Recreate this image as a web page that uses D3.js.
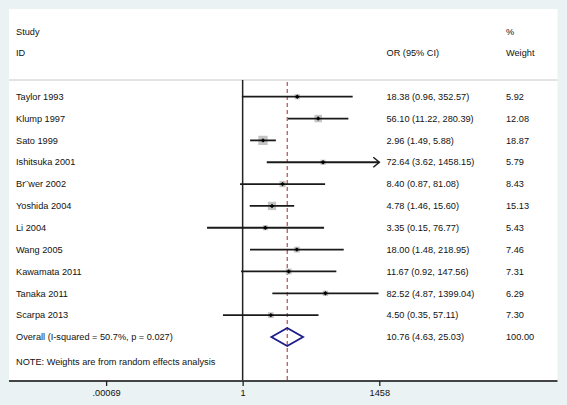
<!DOCTYPE html>
<html><head><meta charset="utf-8">
<script src="https://cdn.jsdelivr.net/npm/d3@7"></script>
<style>html,body{margin:0;padding:0;background:#eaf2f3;}svg{display:block;}</style>
</head><body>
<script>
const studies = ["Taylor 1993","Klump 1997","Sato 1999","Ishitsuka 2001","Br\u00a8wer 2002","Yoshida 2004","Li 2004","Wang 2005","Kawamata 2011","Tanaka 2011","Scarpa 2013"];
const orVals = [18.38,56.10,2.96,72.64,8.40,4.78,3.35,18.00,11.67,82.52,4.50];
const loVals = [0.96,11.22,1.49,3.62,0.87,1.46,0.15,1.48,0.92,4.87,0.35];
const hiVals = [352.57,280.39,5.88,1458.15,81.08,15.60,76.77,218.95,147.56,1399.04,57.11];
const weights = [5.92,12.08,18.87,5.79,8.43,15.13,5.43,7.46,7.31,6.29,7.30];
const overall = {label:"Overall  (I-squared = 50.7%, p = 0.027)", or:10.76, lo:4.63, hi:25.03, w:100.00};
const tickVals = [0.00069, 1, 1458];
const tickLabels = [".00069", "1", "1458"];
const noteText = "NOTE: Weights are from random effects analysis";

const W = 567, H = 405;
const svg = d3.select("body").append("svg").attr("width", W).attr("height", H);
svg.append("rect").attr("width", W).attr("height", H).attr("fill", "#eaf2f3");
svg.append("rect").attr("x", 9).attr("y", 9).attr("width", 548.5).attr("height", 372).attr("fill", "#fff");

const x = d3.scaleLog().domain([tickVals[0], tickVals[2]]).range([106.1, 379.3]);
const rows = studies.concat(["__overall"]);
const y = d3.scalePoint().domain(rows).range([96.7, 337]);

const font = "'Liberation Sans', Arial, sans-serif";
const txt = (t, xx, yy, anchor) => svg.append("text").attr("x", xx).attr("y", yy)
  .attr("dy", "0.35em").attr("font-family", font).attr("font-size", 9.2)
  .attr("fill", "#111").attr("text-anchor", anchor || "start").text(t);

// header
txt("Study", 16, 31.7); txt("ID", 16, 52.7);
txt("OR (95% CI)", 386.5, 52.7);
txt("%", 506, 31.7); txt("Weight", 506, 52.7);
svg.append("line").attr("x1", 9).attr("x2", 557.5).attr("y1", 80).attr("y2", 80)
  .attr("stroke", "#c8c8c8").attr("stroke-width", 1);

// null line
svg.append("line").attr("x1", x(1)).attr("x2", x(1)).attr("y1", 80).attr("y2", 381)
  .attr("stroke", "#222").attr("stroke-width", 1.5);
// overall dashed line
svg.append("line").attr("x1", x(overall.or)).attr("x2", x(overall.or)).attr("y1", 82).attr("y2", 381)
  .attr("stroke", "#a32a2a").attr("stroke-width", 1).attr("stroke-dasharray", "4,3");

const xmin = tickVals[0], xmax = tickVals[2];
studies.forEach((s, i) => {
  const yy = y(s);
  const lo = Math.max(loVals[i], xmin), hi = Math.min(hiVals[i], xmax);
  const side = 2.14 * Math.sqrt(weights[i]);
  svg.append("rect").attr("x", x(orVals[i]) - side/2).attr("y", yy - side/2)
    .attr("width", side).attr("height", side).attr("fill", "#c4c4c4");
  svg.append("line").attr("x1", x(lo)).attr("x2", x(hi)).attr("y1", yy).attr("y2", yy)
    .attr("stroke", "#1a1a1a").attr("stroke-width", 1.8);
  if (hiVals[i] > xmax) {
    const ax = x(xmax);
    svg.append("path").attr("d", `M${ax-6},${yy-5} L${ax},${yy} L${ax-6},${yy+5}`)
      .attr("fill", "none").attr("stroke", "#1a1a1a").attr("stroke-width", 1.5);
  }
  const px = x(orVals[i]);
  svg.append("path").attr("d", `M${px},${yy-2.2} L${px+2.2},${yy} L${px},${yy+2.2} L${px-2.2},${yy} Z`)
    .attr("fill", "#000");
  txt(s, 16, yy);
  txt(`${orVals[i].toFixed(2)} (${loVals[i].toFixed(2)}, ${hiVals[i].toFixed(2)})`, 386.5, yy);
  txt(weights[i].toFixed(2), 506, yy);
});

// overall diamond
const oy = y("__overall");
svg.append("path").attr("d",
  `M${x(overall.lo)},${oy} L${x(overall.or)},${oy-9} L${x(overall.hi)},${oy} L${x(overall.or)},${oy+9} Z`)
  .attr("fill", "none").attr("stroke", "#1c1c8a").attr("stroke-width", 1.8);
txt(overall.label, 16, oy);
txt(`${overall.or.toFixed(2)} (${overall.lo.toFixed(2)}, ${overall.hi.toFixed(2)})`, 386.5, oy);
txt(overall.w.toFixed(2), 506, oy);

txt(noteText, 16, 361.5);

// x axis
svg.append("line").attr("x1", 9).attr("x2", 557.5).attr("y1", 381).attr("y2", 381)
  .attr("stroke", "#444").attr("stroke-width", 2);
const axis = d3.axisBottom(x).tickValues(tickVals).tickFormat((d, i) => tickLabels[i]).tickSize(5).tickPadding(3);
const g = svg.append("g").attr("transform", "translate(0,381)").call(axis);
g.select(".domain").remove();
g.selectAll(".tick line").attr("stroke", "#222").attr("stroke-width", 1.3);
g.selectAll(".tick text").attr("font-family", font).attr("font-size", 9.2).attr("fill", "#111");
</script>
</body></html>
